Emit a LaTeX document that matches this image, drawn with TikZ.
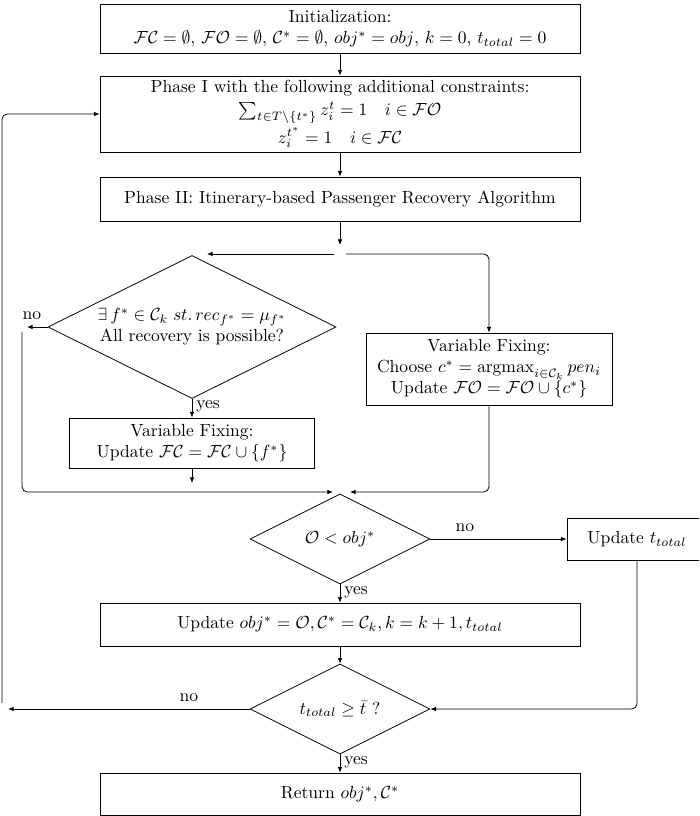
\documentclass[tikz,border=0pt]{standalone}
\usetikzlibrary{shapes.geometric,arrows.meta}
\def\pxl{0.57pt}
\begin{document}
\begin{tikzpicture}[x=0.57pt,y=-0.57pt,
  box/.style={draw, rectangle, align=center, inner sep=0pt},
  dec/.style={draw, diamond, aspect=2, inner sep=0pt, align=center},
  arr/.style={-{Latex[length=3.2pt,width=2.6pt]}},
  lbl/.style={inner sep=0pt},
  line width=0.45pt]
\useasboundingbox (0,0) rectangle (699,816);
\clip (0,0) rectangle (699,816);

\node[box, minimum width=480*\pxl, minimum height=49*\pxl] (init) at (340,28.5)
  {Initialization:\\ $\mathcal{FC}=\emptyset$, $\mathcal{FO}=\emptyset$, $\mathcal{C}^*=\emptyset$, $obj^*=obj$, $k=0$, $t_{total}=0$};
\node[box, minimum width=480*\pxl, minimum height=76*\pxl] (p1) at (340,114)
  {Phase I with the following additional constraints:\\[1pt] $\sum_{t\in T\setminus\{t^*\}} z_i^t=1 \quad i\in\mathcal{FO}$\\[1pt] $z_i^{t^*}=1 \quad i\in\mathcal{FC}$};
\node[box, minimum width=480*\pxl, minimum height=44*\pxl] (p2) at (340,199)
  {Phase II: Itinerary-based Passenger Recovery Algorithm};
\node[dec, minimum width=288*\pxl, minimum height=143*\pxl] (d1) at (192,327)
  {$\exists\, f^*\in\mathcal{C}_k\; st.\, rec_{f^*}=\mu_{f^*}$\\ All recovery is possible?};
\node[box, minimum width=246*\pxl, minimum height=72*\pxl] (vfr) at (489,369)
  {Variable Fixing:\\ Choose $c^*=\mathrm{argmax}_{i\in\mathcal{C}_k}\, pen_i$\\ Update $\mathcal{FO}=\mathcal{FO}\cup\{c^*\}$};
\node[box, minimum width=245*\pxl, minimum height=50*\pxl] (vfl) at (192,443)
  {Variable Fixing:\\ Update $\mathcal{FC}=\mathcal{FC}\cup\{f^*\}$};
\node[dec, minimum width=180*\pxl, minimum height=90*\pxl] (d2) at (340,539) {$\mathcal{O}<obj^*$};
\node[box, minimum width=140*\pxl, minimum height=42*\pxl] (ut) at (637,539) {Update $t_{total}$};
\node[box, minimum width=480*\pxl, minimum height=43*\pxl] (uobj) at (340,624.5)
  {Update $obj^*=\mathcal{O},\mathcal{C}^*=\mathcal{C}_k,k=k+1,t_{total}$};
\node[dec, minimum width=180*\pxl, minimum height=90*\pxl] (d3) at (340,709) {$t_{total}\geq\bar{t}$ ?};
\node[box, minimum width=480*\pxl, minimum height=42*\pxl] (ret) at (340,794) {Return $obj^*,\mathcal{C}^*$};

\coordinate (j) at (340,245);
\coordinate (jl) at (334,254);
\coordinate (jle) at (207,254);
\coordinate (jr) at (346,254);
\coordinate (nol) at (27,327);
\coordinate (lb1) at (22,332);
\coordinate (m1) at (333,492);
\coordinate (m2) at (350,492);
\coordinate (vfle) at (192,483);
\coordinate (nol3) at (8,709);
\coordinate (lb3) at (2,703);

\draw[arr] (init) -- (p1);
\draw[arr] (p1) -- (p2);
\draw[arr] (p2.south) -- (j);
\draw[arr] (jl) -- (jle);
\draw[arr, rounded corners=3pt] (jr) -| (vfr.north);
\draw[arr] (d1.west) -- (nol);
\draw[arr, rounded corners=3pt] (lb1) |- (m1);
\draw[arr] (d1.south) -- (vfl.north);
\draw[arr] (vfl.south) -- (vfle);
\draw[arr, rounded corners=3pt] (vfr.south) |- (m2);
\draw[arr] (d2.south) -- (uobj.north);
\draw[arr] (d2.east) -- (ut.west);
\draw[arr] (uobj.south) -- (d3.north);
\draw[arr, rounded corners=3pt] (ut.south) |- (d3.east);
\draw[arr] (d3.west) -- (nol3);
\draw[arr, rounded corners=3pt] (lb3) |- (p1.west);
\draw[arr] (d3.south) -- (ret.north);

\node[lbl] (no1) at (32,316) {no};
\node[lbl, anchor=west] (yes1) at (196,406) {yes};
\node[lbl] (no2) at (465,528) {no};
\node[lbl, anchor=west] (yes2) at (344,592) {yes};
\node[lbl] (no3) at (189,698) {no};
\node[lbl, anchor=west] (yes3) at (344,762) {yes};
\end{tikzpicture}
\end{document}
